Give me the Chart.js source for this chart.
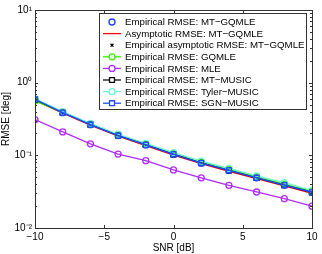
<!DOCTYPE html>
<html><head><meta charset="utf-8">
<script src="https://cdn.jsdelivr.net/npm/chart.js@4"></script>
<style>html,body{margin:0;padding:0;background:#fff}#wrap{width:322px;height:254px}</style>
</head><body><div id="wrap"><canvas id="c" width="322" height="254"></canvas></div>
<script>
const snr = [-10,-8,-6,-4,-2,0,2,4,6,8,10];
const xTicks = [-10,-5,0,5,10];
const xTickLabels = ['\u221210','\u22125','0','5','10'];
const yTicks = [0.01,0.1,1,10];
const yTickLabels = ['10\u207B\u00B2','10\u207B\u00B9','10\u2070','10\u00B9'];
const labels = [
  'Empirical RMSE: MT\u2212GQMLE',
  'Asymptotic RMSE: MT\u2212GQMLE',
  'Empirical asymptotic RMSE: MT\u2212GQMLE',
  'Empirical RMSE: GQMLE',
  'Empirical RMSE: MLE',
  'Empirical RMSE: MT\u2212MUSIC',
  'Empirical RMSE: Tyler\u2212MUSIC',
  'Empirical RMSE: SGN\u2212MUSIC'
];
const empMTGQMLE = [0.58,0.386,0.264,0.187,0.139,0.103,0.078,0.062,0.049,0.039,0.031];
const asymMTGQMLE = [0.57,0.38,0.26,0.184,0.136,0.101,0.077,0.060,0.048,0.038,0.030];
const empAsymMTGQMLE = [0.57,0.38,0.26,0.184,0.136,0.101,0.077,0.060,0.048,0.038,0.030];
const gqmle = [0.56,0.39,0.268,0.19,0.142,0.106,0.080,0.064,0.051,0.040,0.032];
const mle = [0.31,0.21,0.144,0.104,0.0845,0.063,0.049,0.0387,0.0313,0.0253,0.020];
const mtMusic = [0.585,0.39,0.266,0.188,0.14,0.104,0.079,0.062,0.049,0.039,0.031];
const tylerMusic = [0.6,0.4,0.275,0.195,0.146,0.109,0.083,0.066,0.052,0.042,0.033];
const sgnMusic = [0.59,0.388,0.264,0.187,0.139,0.103,0.078,0.062,0.049,0.039,0.031];

const FONT = 'Liberation Sans, Arial, sans-serif';
const pts = a => a.map((v,i)=>({x:snr[i],y:v}));
const styles = [
  {data:empMTGQMLE,color:'#1f3fff',line:false,ps:'circle',r:3},
  {data:asymMTGQMLE,color:'#ff0000',line:true,ps:false,r:0},
  {data:empAsymMTGQMLE,color:'#000000',line:false,ps:'crossRot',r:2},
  {data:gqmle,color:'#3cf000',line:true,ps:'circle',r:3},
  {data:mle,color:'#b02cff',line:true,ps:'circle',r:3},
  {data:mtMusic,color:'#111111',line:true,ps:'rect',r:3.5},
  {data:tylerMusic,color:'#6cf5d4',line:true,ps:'circle',r:3},
  {data:sgnMusic,color:'#1f4cff',line:true,ps:'rect',r:3.5}
];
const datasets = styles.map((s,i)=>({
  label:labels[i], data:pts(s.data), borderColor:s.color, backgroundColor:'rgba(0,0,0,0)',
  showLine:s.line, borderWidth:1.3, pointStyle:s.ps||'circle', pointRadius:s.r,
  pointBorderColor:s.color, pointBorderWidth:1.3, pointBackgroundColor:'rgba(0,0,0,0)',
  order: 7-i, fill:false, tension:0
}));

const deco = {
  id:'deco',
  afterDraw(chart){
    const ctx=chart.ctx, a=chart.chartArea, xs=chart.scales.x, ys=chart.scales.y;
    ctx.save();
    ctx.strokeStyle='#333'; ctx.lineWidth=1;
    ctx.strokeRect(Math.round(a.left)+0.5,Math.round(a.top)+0.5,Math.round(a.right-a.left),Math.round(a.bottom-a.top));
    ctx.beginPath();
    xTicks.forEach(v=>{const x=Math.round(xs.getPixelForValue(v))+0.5;
      ctx.moveTo(x,a.bottom);ctx.lineTo(x,a.bottom-3);ctx.moveTo(x,a.top);ctx.lineTo(x,a.top+3);});
    for(let e=-2;e<1;e++){for(let m=1;m<10;m++){const v=m*Math.pow(10,e);
      const y=Math.round(ys.getPixelForValue(v))+0.5; const L=m===1?3:2;
      ctx.moveTo(a.left,y);ctx.lineTo(a.left+L,y);ctx.moveTo(a.right,y);ctx.lineTo(a.right-L,y);}}
    ctx.stroke();
    // legend
    const lx=99.5, ly=13.5, lw=207, lh=96, rowH=11.6;
    ctx.fillStyle='#fff'; ctx.fillRect(lx,ly,lw,lh);
    ctx.strokeStyle='#333'; ctx.strokeRect(lx,ly,lw,lh);
    ctx.textBaseline='middle'; ctx.textAlign='left';
    styles.forEach((s,i)=>{
      const y=ly+8.5+i*rowH;
      ctx.strokeStyle=s.color; ctx.lineWidth=1.3;
      if(s.line){ctx.beginPath();ctx.moveTo(103,y);ctx.lineTo(121,y);ctx.stroke();}
      if(s.ps){ctx.fillStyle='#fff';ctx.strokeStyle=s.color;
        Chart.helpers.drawPoint(ctx,{pointStyle:s.ps,radius:s.r,borderWidth:1.3},112,y);}
      ctx.font='9.7px '+FONT;
      ctx.fillStyle='#000'; ctx.fillText(labels[i],125,y+0.5);
    });
    ctx.restore();
  }
};

new Chart(document.getElementById('c'),{
  type:'line',
  data:{datasets},
  options:{
    responsive:false, animation:false, devicePixelRatio:1,
    layout:{padding:{left:0,right:10,top:10,bottom:0}},
    plugins:{legend:{display:false},tooltip:{enabled:false}},
    scales:{
      x:{type:'linear',min:-10,max:10,
        afterBuildTicks:s=>{s.ticks=xTicks.map(v=>({value:v}));},
        afterFit:s=>{s.height=26;},
        grid:{display:false,drawTicks:false}, border:{display:false},
        ticks:{padding:3,color:'#000',font:{size:10,family:FONT},maxRotation:0,
          callback:(v)=>xTickLabels[xTicks.indexOf(v)]},
        title:{display:true,text:'SNR [dB]',color:'#000',font:{size:10,family:FONT},padding:{top:0,bottom:0}}
      },
      y:{type:'logarithmic',min:0.01,max:10,
        afterBuildTicks:s=>{s.ticks=yTicks.map(v=>({value:v}));},
        afterFit:s=>{s.width=35;},
        grid:{display:false,drawTicks:false}, border:{display:false},
        ticks:{padding:3,color:'#000',font:{size:10,family:FONT},
          callback:(v)=>{const i=yTicks.findIndex(t=>Math.abs(t-v)/t<1e-6);return i<0?'':yTickLabels[i];}},
        title:{display:true,text:'RMSE [deg]',color:'#000',font:{size:10,family:FONT},padding:{top:0,bottom:2}}
      }
    }
  },
  plugins:[deco]
});
</script></body></html>
